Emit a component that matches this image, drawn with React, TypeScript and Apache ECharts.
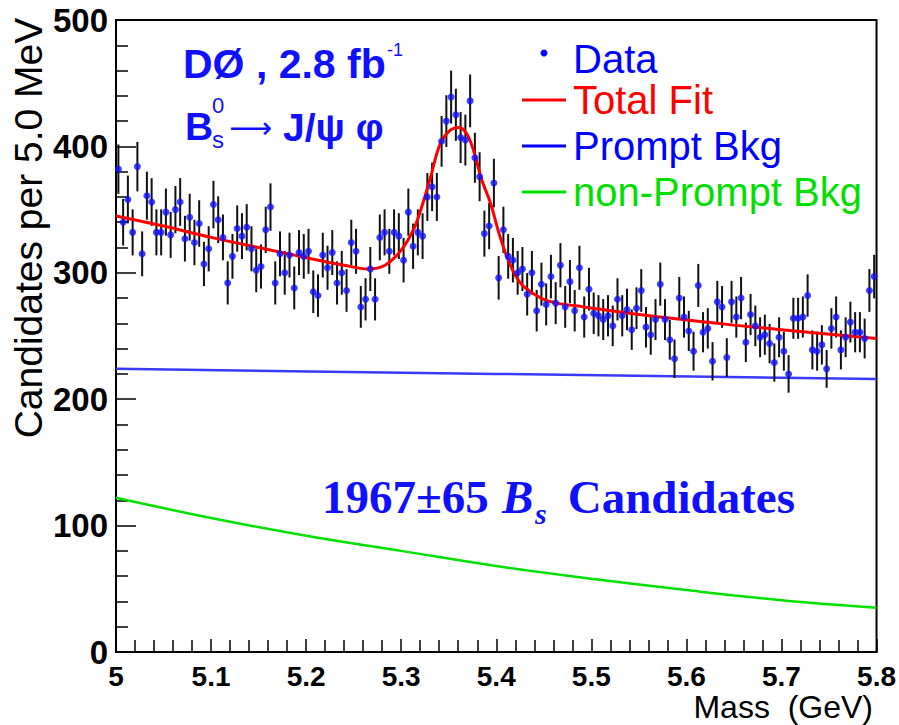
import React, { useEffect, useRef } from "react";
import * as echarts from "echarts";

// ---- Data ----
const BIN_START = 5.0; // GeV, low edge of the first bin
const BIN_WIDTH = 0.005; // GeV (5.0 MeV bins)

// Candidates per 5 MeV bin, 160 bins from 5.0 to 5.8 GeV
const counts: number[] = [
  382, 340, 358, 332, 384, 315, 361, 356, 332, 332, 348, 330, 350, 356, 327, 344, 324, 339, 307, 319,
  354, 342, 328, 292, 313, 335, 329, 336, 319, 302, 305, 334, 352, 292, 315, 300, 314, 288, 316, 313,
  317, 285, 282, 314, 304, 316, 292, 300, 286, 324, 317, 273, 279, 303, 279, 328, 332, 317, 332, 329,
  310, 348, 321, 332, 329, 360, 368, 360, 404, 420, 439, 425, 407, 405, 436, 391, 376, 331, 337, 371,
  296, 334, 313, 310, 300, 303, 283, 300, 270, 291, 275, 297, 276, 306, 273, 293, 270, 304, 265, 287,
  268, 266, 263, 266, 258, 279, 266, 271, 255, 272, 286, 257, 251, 263, 291, 263, 247, 232, 280, 265,
  254, 238, 290, 253, 256, 230, 277, 273, 233, 277, 265, 280, 245, 267, 258, 249, 251, 244, 229, 249,
  238, 220, 264, 264, 265, 282, 239, 238, 243, 224, 256, 265, 239, 249, 261, 253, 253, 248, 286, 297,
];

// Total fit curve
const fitMass: number[] = [
  5.0, 5.05, 5.1, 5.15, 5.2, 5.24, 5.265, 5.283, 5.3, 5.314, 5.324, 5.331, 5.341, 5.352, 5.361,
  5.369, 5.376, 5.385, 5.394, 5.403, 5.411, 5.42, 5.429, 5.447, 5.464, 5.492, 5.55, 5.645, 5.7, 5.8,
];
const fitTotal: number[] = [
  345, 337, 328, 320, 312, 306, 303, 306, 318, 336, 358, 376, 402, 413, 415,
  410, 397, 373, 355, 331, 313, 298, 289, 280, 276, 273, 267, 259, 255, 248,
];

// Prompt background (straight line)
const promptMass: number[] = [5.0, 5.4, 5.8];
const promptBkg: number[] = [224, 220, 216];

// Non-prompt background
const nonPromptMass: number[] = [5.0, 5.1, 5.2, 5.3, 5.4, 5.5, 5.6, 5.7, 5.8];
const nonPromptBkg: number[] = [122, 106, 92, 80, 68, 58, 49, 41, 35];

// Axis ticks
const yTicks: number[] = [0, 100, 200, 300, 400, 500];
const xTickLabels: string[] = ["5", "5.1", "5.2", "5.3", "5.4", "5.5", "5.6", "5.7", "5.8"];

const legendItems = [
  { label: "Data", color: "#0000ff", kind: "marker" },
  { label: "Total Fit", color: "#ff0000", kind: "line" },
  { label: "Prompt Bkg", color: "#0000ff", kind: "line" },
  { label: "non-Prompt Bkg", color: "#00e000", kind: "line" },
];

const SANS = "Liberation Sans, Arial, Helvetica, sans-serif";
const SERIF = "Liberation Serif, Times New Roman, serif";

export default function App() {
  const ref = useRef<HTMLDivElement>(null);

  useEffect(() => {
    if (!ref.current) return;
    const chart = echarts.init(ref.current, null, { renderer: "svg" });

    const points = counts.map((c, i) => [BIN_START + (i + 0.5) * BIN_WIDTH, c, Math.sqrt(c)]);
    const fitData = fitMass.map((m, i) => [m, fitTotal[i]]);
    const promptData = promptMass.map((m, i) => [m, promptBkg[i]]);
    const nonPromptData = nonPromptMass.map((m, i) => [m, nonPromptBkg[i]]);

    const legendY = [59, 100, 146, 192];
    const legendGraphics: any[] = [];
    legendItems.forEach((it, i) => {
      const y = legendY[i];
      if (it.kind === "marker") {
        legendGraphics.push({
          type: "circle",
          shape: { cx: 544, cy: y - 6, r: 3.5 },
          style: { fill: it.color },
          z: 100,
        });
      } else {
        legendGraphics.push({
          type: "line",
          shape: { x1: 522, y1: y, x2: 566, y2: y },
          style: { stroke: it.color, lineWidth: 3 },
          z: 100,
        });
      }
      legendGraphics.push({
        type: "text",
        x: 573,
        y: y,
        style: {
          text: it.label,
          fill: it.color,
          font: `40px ${SANS}`,
          align: "left",
          verticalAlign: "middle",
        },
        z: 100,
      });
    });

    const blue = "#1010ff";

    const option: any = {
      animation: false,
      backgroundColor: "#ffffff",
      grid: {
        left: 116,
        right: 22,
        top: 20,
        bottom: 73,
        show: true,
        borderColor: "#000",
        borderWidth: 2,
        backgroundColor: "transparent",
      },
      xAxis: {
        type: "value",
        min: 5.0,
        max: 5.8,
        interval: 0.1,
        axisLine: { show: true, onZero: false, lineStyle: { color: "#000", width: 2 } },
        axisTick: { show: true, inside: true, length: 13, lineStyle: { color: "#000", width: 1.5 } },
        minorTick: { show: true, splitNumber: 5, length: 12, lineStyle: { color: "#000", width: 1.5 } },
        splitLine: { show: false },
        minorSplitLine: { show: false },
        axisLabel: {
          color: "#000",
          fontSize: 28,
          fontWeight: "bold",
          fontFamily: SANS,
          margin: 10,
          formatter: (v: number) => xTickLabels[Math.round((v - 5.0) * 10)] ?? "",
        },
      },
      yAxis: {
        type: "value",
        min: 0,
        max: 500,
        interval: 100,
        axisLine: { show: true, lineStyle: { color: "#000", width: 2 } },
        axisTick: { show: true, inside: true, length: 20, lineStyle: { color: "#000", width: 1.5 } },
        minorTick: { show: true, splitNumber: 5, length: 12, lineStyle: { color: "#000", width: 1.5 } },
        splitLine: { show: false },
        minorSplitLine: { show: false },
        axisLabel: {
          color: "#000",
          fontSize: 33,
          fontWeight: "bold",
          fontFamily: SANS,
          margin: 8,
          formatter: (v: number) => (yTicks.includes(v) ? String(v) : ""),
        },
      },
      series: [
        {
          type: "line",
          name: "non-Prompt Bkg",
          data: nonPromptData,
          smooth: 0.4,
          showSymbol: false,
          lineStyle: { color: "#00e000", width: 2.5 },
          z: 2,
        },
        {
          type: "line",
          name: "Prompt Bkg",
          data: promptData,
          showSymbol: false,
          lineStyle: { color: "#3a3aff", width: 2.5 },
          z: 2,
        },
        {
          type: "custom",
          name: "Errors",
          data: points,
          encode: { x: 0, y: 1 },
          renderItem: (params: any, api: any) => {
            const x = api.value(0);
            const c = api.value(1);
            const e = api.value(2);
            const top = api.coord([x, c + e]);
            const bot = api.coord([x, c - e]);
            return {
              type: "line",
              shape: { x1: top[0], y1: top[1], x2: bot[0], y2: bot[1] },
              style: { stroke: "#111", lineWidth: 2 },
            };
          },
          z: 3,
        },
        {
          type: "line",
          name: "Total Fit",
          data: fitData,
          smooth: 0.35,
          showSymbol: false,
          lineStyle: { color: "#ff0000", width: 3 },
          z: 4,
        },
        {
          type: "scatter",
          name: "Data",
          data: points.map((p) => [p[0], p[1]]),
          symbol: "circle",
          symbolSize: 7,
          itemStyle: { color: blue },
          z: 5,
        },
      ],
      graphic: [
        // axis titles
        {
          type: "text",
          x: 28,
          y: 228,
          rotation: Math.PI / 2,
          style: {
            text: "Candidates per 5.0 MeV",
            fill: "#000",
            font: `39px ${SANS}`,
            align: "center",
            verticalAlign: "middle",
          },
        },
        {
          type: "text",
          x: 873,
          y: 723,
          style: {
            text: "Mass  (GeV)",
            fill: "#000",
            font: `32px ${SANS}`,
            align: "right",
            verticalAlign: "bottom",
          },
        },
        // DØ label
        {
          type: "text",
          x: 183,
          y: 64,
          style: {
            text: "DØ , 2.8 fb",
            fill: blue,
            font: `bold 41px ${SANS}`,
            align: "left",
            verticalAlign: "middle",
          },
          z: 100,
        },
        {
          type: "text",
          x: 387,
          y: 50,
          style: {
            text: "-1",
            fill: blue,
            font: `18px ${SANS}`,
            align: "left",
            verticalAlign: "middle",
          },
          z: 100,
        },
        // decay label
        {
          type: "text",
          x: 185,
          y: 126,
          style: { text: "B", fill: blue, font: `bold 39px ${SANS}`, align: "left", verticalAlign: "middle" },
          z: 100,
        },
        {
          type: "text",
          x: 212,
          y: 105,
          style: { text: "0", fill: blue, font: `22px ${SANS}`, align: "left", verticalAlign: "middle" },
          z: 100,
        },
        {
          type: "text",
          x: 212,
          y: 139,
          style: { text: "s", fill: blue, font: `24px ${SANS}`, align: "left", verticalAlign: "middle" },
          z: 100,
        },
        {
          type: "text",
          x: 229,
          y: 127,
          style: { text: "⟶", fill: blue, font: `30px DejaVu Sans, sans-serif`, align: "left", verticalAlign: "middle" },
          z: 100,
        },
        {
          type: "text",
          x: 283,
          y: 127,
          style: { text: "J/ψ φ", fill: blue, font: `bold 39px ${SANS}`, align: "left", verticalAlign: "middle" },
          z: 100,
        },
        // candidates label
        {
          type: "text",
          x: 322,
          y: 497,
          style: { text: "1967±65", fill: blue, font: `bold 47px ${SERIF}`, align: "left", verticalAlign: "middle" },
          z: 100,
        },
        {
          type: "text",
          x: 502,
          y: 497,
          style: { text: "B", fill: blue, font: `italic bold 47px ${SERIF}`, align: "left", verticalAlign: "middle" },
          z: 100,
        },
        {
          type: "text",
          x: 535,
          y: 513,
          style: { text: "s", fill: blue, font: `italic bold 30px ${SERIF}`, align: "left", verticalAlign: "middle" },
          z: 100,
        },
        {
          type: "text",
          x: 795,
          y: 497,
          style: { text: "Candidates", fill: blue, font: `bold 47px ${SERIF}`, align: "right", verticalAlign: "middle" },
          z: 100,
        },
        ...legendGraphics,
      ],
    };

    chart.setOption(option);
    return () => chart.dispose();
  }, []);

  return (
    <div
      ref={ref}
      style={{ position: "fixed", left: 0, top: 0, width: 899, height: 725, background: "#fff" }}
    />
  );
}
